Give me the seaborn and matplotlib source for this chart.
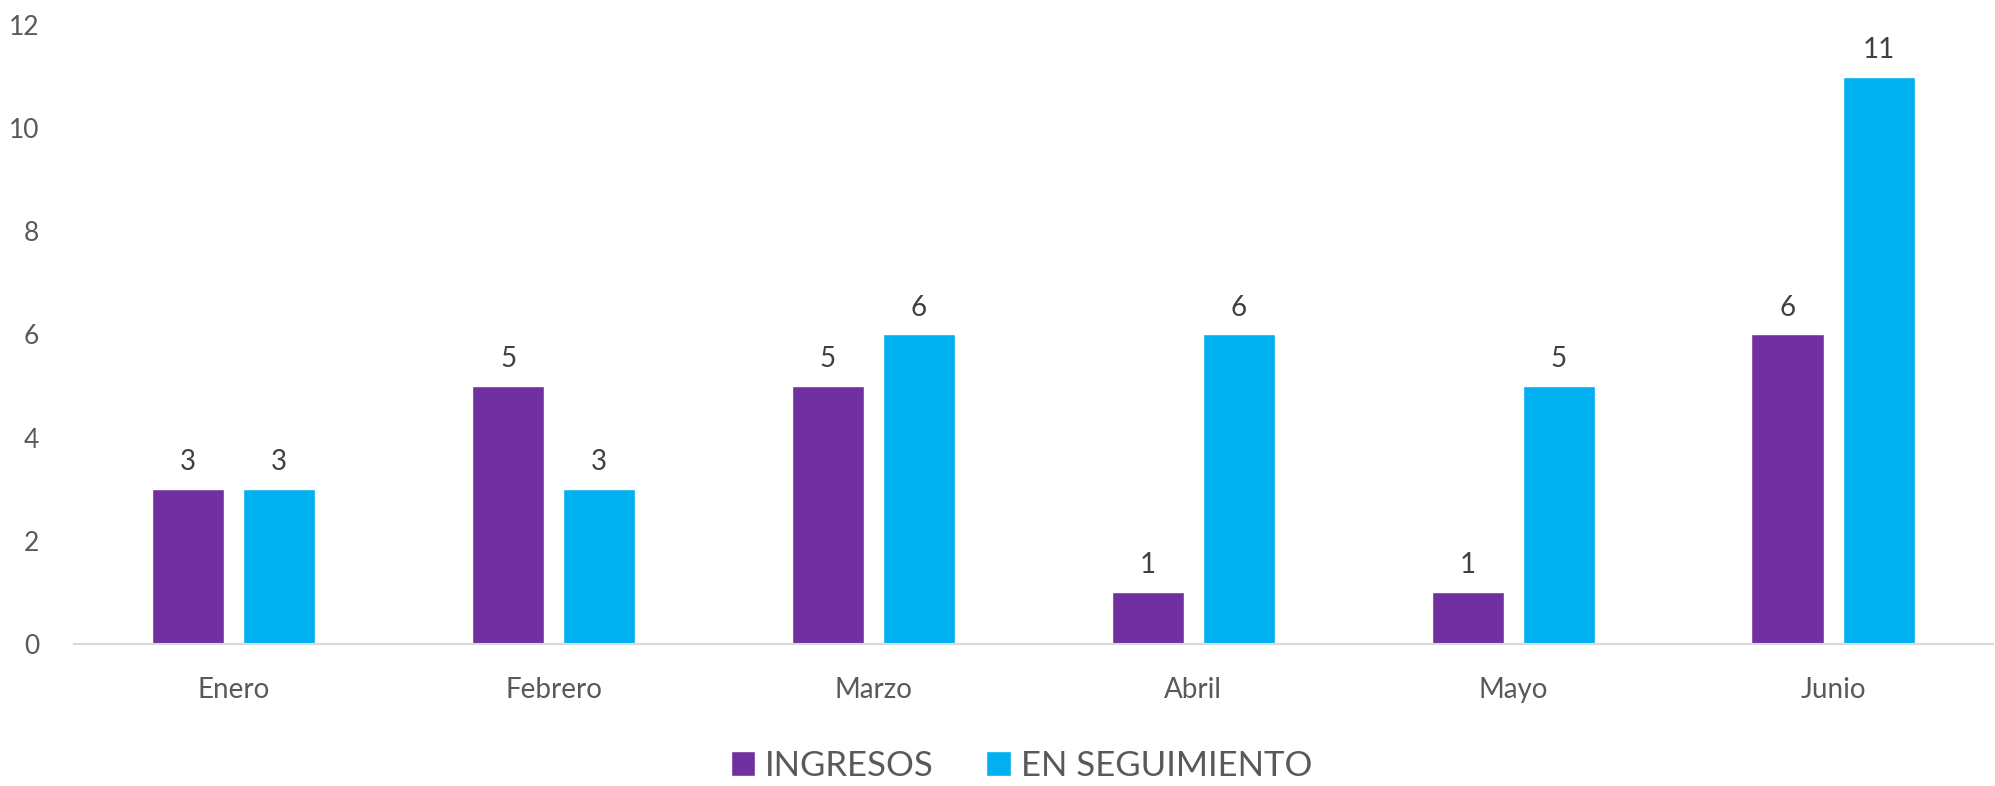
import matplotlib
matplotlib.use("Agg")
import matplotlib.pyplot as plt
import seaborn as sns
import pandas as pd

months = ["Enero", "Febrero", "Marzo", "Abril", "Mayo", "Junio"]
ingresos = [3, 5, 5, 1, 1, 6]
seguimiento = [3, 3, 6, 6, 5, 11]
series_names = ["INGRESOS", "EN SEGUIMIENTO"]
colors = ["#7030A0", "#00B0F0"]

df = pd.DataFrame({
    "mes": months * 2,
    "valor": ingresos + seguimiento,
    "serie": [series_names[0]] * len(months) + [series_names[1]] * len(months),
})

sns.set_theme(style="white")
plt.rcParams["font.family"] = ["Lato", "DejaVu Sans"]

fig = plt.figure(figsize=(19.95, 7.86), dpi=100)
ax = fig.add_axes([0.037, 0.181, 0.962, 0.787])

sns.barplot(data=df, x="mes", y="valor", hue="serie", order=months,
            hue_order=series_names, palette=colors, width=0.57, gap=0.21,
            saturation=1, ax=ax, legend=False)

for c in ax.containers:
    ax.bar_label(c, fmt="%g", padding=10, fontsize=20, color="#404040")

ax.set_ylim(0, 12)
ax.set_yticks(range(0, 13, 2))
ax.set_xlim(-0.5, len(months) - 0.5)
ax.set_xlabel("")
ax.set_ylabel("")
for s in ["top", "right", "left"]:
    ax.spines[s].set_visible(False)
ax.spines["bottom"].set_color("#D9D9D9")
ax.spines["bottom"].set_linewidth(1.5)
ax.tick_params(axis="y", length=0, pad=25, labelsize=19, labelcolor="#595959")
ax.tick_params(axis="x", length=0, pad=24, labelsize=20, labelcolor="#595959")

from matplotlib.patches import Patch
handles = [Patch(facecolor=colors[i], label=series_names[i]) for i in range(2)]
fig.legend(handles=handles, loc="center", bbox_to_anchor=(0.512, 0.026), ncol=2,
           frameon=False, fontsize=25, labelcolor="#595959", handlelength=0.7,
           handleheight=0.7, handletextpad=0.3, columnspacing=1.5)

fig.savefig("out.png", dpi=100)
